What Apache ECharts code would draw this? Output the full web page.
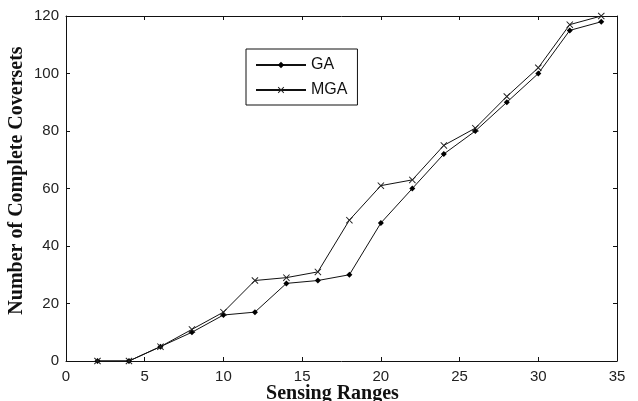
<!DOCTYPE html>
<html>
<head>
<meta charset="utf-8">
<script src="https://cdn.jsdelivr.net/npm/echarts@6/dist/echarts.min.js"></script>
<style>
	html,body{margin:0;padding:0;background:#fff;}
	#chart{width:638px;height:401px;}
</style>
</head>
<body>
<div id="chart"></div>
<script>
var ranges = [2,4,6,8,10,12,14,16,18,20,22,24,26,28,30,32,34];
var gaValues = [0,0,5,10,16,17,27,28,30,48,60,72,80,90,100,115,118];
var mgaValues = [0,0,5,11,17,28,29,31,49,61,63,75,81,92,102,117,120];
var xTicks = [0,5,10,15,20,25,30,35];
var yTicks = [0,20,40,60,80,100,120];

var crossPath = "path://M0,1L1,0L5,4L9,0L10,1L6,5L10,9L9,10L5,6L1,10L0,9L4,5Z";
var tickFont = {fontFamily:"'Liberation Sans Narrow','Liberation Sans',Arial,sans-serif",fontSize:15,color:"#222"};
var titleFamily = "'Liberation Serif','Times New Roman',serif";

function pairs(xs,ys){
	var out = [];
	for(var i=0;i<xs.length;i++){
		out.push([xs[i],ys[i]]);
	}
	return out;
}

function frameAxis(isX,idx,pos){
	var ax = {
		type:"value",
		position:pos,
		min:isX?xTicks[0]:yTicks[0],
		max:isX?xTicks[xTicks.length-1]:yTicks[yTicks.length-1],
		interval:isX?5:20,
		axisLine:{show:true,onZero:false,lineStyle:{color:"#111",width:1}},
		axisTick:{show:true,inside:true,length:4,lineStyle:{color:"#111"}},
		splitLine:{show:false},
		axisLabel:{show:idx==0}
	};
	return ax;
}

var xMain = frameAxis(true,0,"bottom");
xMain.axisLabel = {show:true,margin:8,fontFamily:tickFont.fontFamily,fontSize:tickFont.fontSize,color:tickFont.color};
xMain.name = "Sensing Ranges";
xMain.nameLocation = "middle";
xMain.nameGap = 23;
xMain.nameMoveOverlap = false;
xMain.nameTextStyle = {fontFamily:titleFamily,fontSize:20,fontWeight:"bold",color:"#111",padding:[0,18,0,0]};

var yMain = frameAxis(false,0,"left");
yMain.axisLabel = {show:true,margin:7,fontFamily:tickFont.fontFamily,fontSize:tickFont.fontSize,color:tickFont.color};
yMain.name = "Number of Complete Coversets";
yMain.nameLocation = "middle";
yMain.nameGap = 39;
yMain.nameMoveOverlap = false;
yMain.nameTextStyle = {fontFamily:titleFamily,fontSize:20,fontWeight:"bold",color:"#111",padding:[0,0,0,16]};

var chart = echarts.init(document.getElementById("chart"));
chart.setOption({
	animation:false,
	backgroundColor:"#fff",
	grid:{left:66,right:21,top:16,bottom:40,containLabel:false,outerBoundsMode:"none"},
	xAxis:[xMain,frameAxis(true,1,"top")],
	yAxis:[yMain,frameAxis(false,1,"right")],
	legend:{
		orient:"vertical",
		left:246,
		top:49,
		itemWidth:50,
		itemHeight:8,
		itemGap:9,
		padding:[8,10,7,9],
		borderColor:"#111",
		borderWidth:1,
		textStyle:{fontFamily:"'Liberation Sans',Arial,sans-serif",fontSize:16,color:"#111"},
		data:["GA","MGA"]
	},
	series:[
		{
			name:"GA",
			type:"line",
			data:pairs(ranges,gaValues),
			symbol:"diamond",
			symbolSize:6,
			showAllSymbol:true,
			lineStyle:{color:"#111",width:1},
			itemStyle:{color:"#000"}
		},
		{
			name:"MGA",
			type:"line",
			data:pairs(ranges,mgaValues),
			symbol:crossPath,
			symbolSize:7,
			showAllSymbol:true,
			lineStyle:{color:"#111",width:1},
			itemStyle:{color:"#222"}
		}
	]
});
</script>
</body>
</html>
